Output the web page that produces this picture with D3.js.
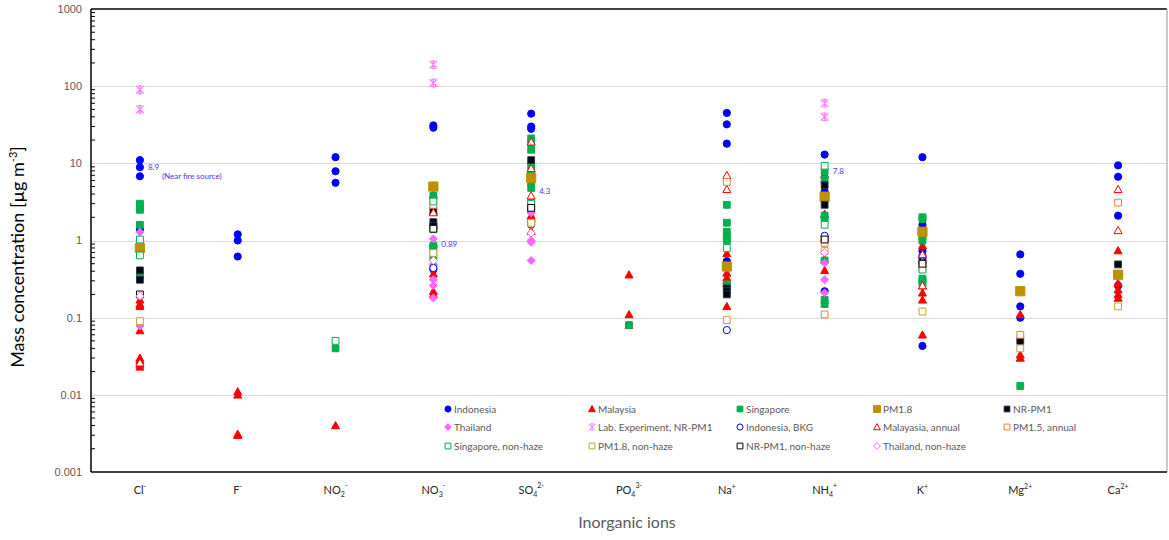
<!DOCTYPE html>
<meta charset="utf-8">
<style>
body { margin: 0; background: #fff; }
svg { font-family: Lato, "Open Sans", sans-serif; }
.grid line { stroke: #d9d9d9; stroke-width: 1; }
.ticklab { fill: #595959; font-size: 11px; font-family: "Liberation Sans", Arial, sans-serif; }
.catlab { fill: #262626; font-size: 11px; }
.leg text { fill: #595959; font-size: 10px; }
.note { fill: #3b3bff; font-size: 8px; }
</style>
<body>
<script src="https://d3js.org/d3.v7.min.js"></script>
<svg width="1169" height="540"></svg>
<script>

// categories (inorganic ions) and their label parts
var categories = ["Cl", "F", "NO2", "NO3", "SO4", "PO4", "Na", "NH4", "K", "Mg", "Ca"];
var labelBase = ["Cl", "F", "NO", "NO", "SO", "PO", "Na", "NH", "K", "Mg", "Ca"];
var labelSub  = ["", "", "2", "3", "4", "4", "", "4", "", "", ""];
var labelSup  = ["-", "-", "-", "-", "2-", "3-", "+", "+", "+", "2+", "2+"];

var yTicks = [0.001, 0.01, 0.1, 1, 10, 100, 1000];
var yTickLabels = ["0.001", "0.01", "0.1", "1", "10", "100", "1000"];

// series values: [category, concentration]
var indonesia = [["Cl",11],["Cl",8.9],["Cl",6.8],["Cl",1.4],["F",1.2],["F",1.0],["F",0.62],
  ["NO2",12],["NO2",7.9],["NO2",5.6],["NO3",31],["NO3",29],["NO3",0.42],
  ["SO4",44],["SO4",30],["SO4",28],["Na",45],["Na",32],["Na",18],["Na",0.54],
  ["NH4",13],["NH4",4.3],["NH4",1.1],["NH4",0.22],["K",12],["K",1.6],["K",0.73],["K",0.6],["K",0.043],
  ["Mg",0.66],["Mg",0.37],["Mg",0.14],["Mg",0.1],["Ca",9.4],["Ca",6.7],["Ca",2.1],["Ca",0.26]];
var malaysia = [["Cl",0.17],["Cl",0.15],["Cl",0.14],["Cl",0.068],["Cl",0.030],["Cl",0.028],["Cl",0.025],["Cl",0.023],
  ["F",0.011],["F",0.010],["F",0.0031],["F",0.003],["NO2",0.004],
  ["NO3",3.9],["NO3",2.4],["NO3",0.93],["NO3",0.37],["NO3",0.22],["NO3",0.2],
  ["SO4",2.1],["SO4",2.0],["SO4",1.9],["PO4",0.36],["PO4",0.11],["PO4",0.08],
  ["Na",0.68],["Na",0.38],["Na",0.33],["Na",0.3],["Na",0.28],["Na",0.14],
  ["NH4",7.2],["NH4",2.2],["NH4",1.1],["NH4",0.57],["NH4",0.41],
  ["K",0.86],["K",0.26],["K",0.21],["K",0.17],["K",0.06],["Mg",0.11],["Mg",0.033],["Mg",0.03],
  ["Ca",0.74],["Ca",0.28],["Ca",0.23],["Ca",0.2],["Ca",0.18]];
var singapore = [["Cl",3.0],["Cl",2.7],["Cl",2.5],["Cl",1.6],["Cl",0.35],["NO2",0.04],
  ["NO3",3.8],["NO3",1.5],["NO3",0.85],["NO3",0.76],["NO3",0.6],["NO3",0.45],
  ["SO4",21],["SO4",18.5],["SO4",15],["SO4",9.5],["SO4",7.8],["SO4",5.5],["SO4",4.8],["SO4",3.1],
  ["PO4",0.08],["Na",2.9],["Na",1.7],["Na",1.3],["Na",1.1],["Na",1.0],["Na",0.27],
  ["NH4",7.9],["NH4",6.2],["NH4",2.1],["NH4",1.9],["NH4",0.55],["NH4",0.17],["NH4",0.15],
  ["K",2.0],["K",1.9],["K",1.1],["K",1.0],["K",0.32],["K",0.3],["K",0.28],["Mg",0.013]];
var pm18 = [["Cl",0.8],["NO3",5.0],["SO4",6.5],["Na",0.46],["NH4",3.7],["K",1.3],["Mg",0.22],["Ca",0.36]];
var nrpm1 = [["Cl",0.41],["Cl",0.31],["NO3",2.45],["NO3",1.73],["NO3",1.56],["SO4",11],["SO4",2.5],
  ["Na",0.24],["Na",0.22],["Na",0.2],["NH4",5.2],["NH4",2.9],["K",0.54],["K",0.49],["Mg",0.05],["Ca",0.49]];
var thailand = [["Cl",1.28],["Cl",1.0],["Cl",0.078],["NO3",1.05],["NO3",0.49],["NO3",0.31],["NO3",0.26],["NO3",0.18],
  ["SO4",2.28],["SO4",1.0],["SO4",0.95],["SO4",0.55],["NH4",0.51],["NH4",0.31],["NH4",0.21],["K",0.62]];
var labExp = [["Cl",90],["Cl",50],["NO3",190],["NO3",110],["NH4",60],["NH4",40]];
var indoBkg = [["NO3",0.44],["SO4",1.6],["Na",0.069],["NH4",1.15],["K",0.64]];
var malAnnual = [["Cl",0.026],["NO3",2.3],["SO4",19],["SO4",8.6],["SO4",3.8],["SO4",1.32],
  ["Na",7.0],["Na",4.6],["K",0.66],["K",0.26],["Ca",4.6],["Ca",1.35]];
var pm15Annual = [["NO3",2.9],["Na",5.75],["NH4",0.93],["NH4",0.11],["K",0.44],["Mg",0.06],["Ca",3.1]];
var singNonhaze = [["Cl",1.03],["Cl",0.64],["NO2",0.05],["NO3",3.2],["NO3",1.4],["SO4",3.0],
  ["Na",0.8],["NH4",9.3],["NH4",1.6],["K",0.42]];
var pm18Nonhaze = [["Cl",0.09],["NO3",0.69],["SO4",1.7],["Na",0.093],["NH4",0.73],["K",0.12],["Mg",0.04],["Ca",0.14]];
var nrpm1Nonhaze = [["Cl",0.2],["NO3",1.42],["SO4",2.65],["NH4",1.03],["K",0.5]];
var thaiNonhaze = [["Cl",0.19],["NO3",0.55],["SO4",1.25],["NH4",0.7]];

var notes = [["Cl", 8.9, "8.9"], ["NO3", 0.89, "0.89"], ["SO4", 4.3, "4.3"], ["NH4", 7.8, "7.8"]];

var series = [
  {name: "Indonesia", data: indonesia, shape: "circle", fill: "#0000ff", stroke: "#0000ff"},
  {name: "Malaysia", data: malaysia, shape: "triangle", fill: "#ff0000", stroke: "#ff0000"},
  {name: "Singapore", data: singapore, shape: "square", fill: "#00b050", stroke: "#00b050"},
  {name: "PM1.8", data: pm18, shape: "bigsquare", fill: "#bf9000", stroke: "#bf9000"},
  {name: "NR-PM1", data: nrpm1, shape: "square", fill: "#000000", stroke: "#1f3864"},
  {name: "Thailand", data: thailand, shape: "diamond", fill: "#ff66ff", stroke: "#ff66ff"},
  {name: "Lab. Experiment, NR-PM1", data: labExp, shape: "star", fill: "none", stroke: "#ff7fff"},
  {name: "Indonesia, BKG", data: indoBkg, shape: "circle", fill: "#fff", stroke: "#0000ff"},
  {name: "Malayasia, annual", data: malAnnual, shape: "triangle", fill: "#fff", stroke: "#ff0000"},
  {name: "PM1.5, annual", data: pm15Annual, shape: "square", fill: "#fff", stroke: "#ed7d31"},
  {name: "Singapore, non-haze", data: singNonhaze, shape: "square", fill: "#fff", stroke: "#00b050"},
  {name: "PM1.8, non-haze", data: pm18Nonhaze, shape: "square", fill: "#fff", stroke: "#c9a227"},
  {name: "NR-PM1, non-haze", data: nrpm1Nonhaze, shape: "square", fill: "#fff", stroke: "#000000"},
  {name: "Thailand, non-haze", data: thaiNonhaze, shape: "diamond", fill: "#fff", stroke: "#ff66ff"}
];

var svg = d3.select("svg");
var plotLeft = 91, plotRight = 1167, plotTop = 9, plotBottom = 472;

var x = d3.scaleBand().domain(categories).range([plotLeft, plotRight]);
var y = d3.scaleLog().domain([0.001, 1000]).range([plotBottom, plotTop]);

function shapePath(shape, s) {
  s = s || 1;
  var r;
  switch (shape) {
    case "circle": r = 3.6 * s; return "M" + (-r) + ",0A" + r + "," + r + " 0 1,0 " + r + ",0A" + r + "," + r + " 0 1,0 " + (-r) + ",0Z";
    case "triangle": r = 4 * s; return "M0," + (-r) + "L" + r + "," + (r * 0.8) + "L" + (-r) + "," + (r * 0.8) + "Z";
    case "square": r = 3.4 * s; return "M" + (-r) + "," + (-r) + "H" + r + "V" + r + "H" + (-r) + "Z";
    case "bigsquare": r = 4.6 * s; return "M" + (-r) + "," + (-r) + "H" + r + "V" + r + "H" + (-r) + "Z";
    case "diamond": r = 4 * s; return "M0," + (-r) + "L" + r + ",0L0," + r + "L" + (-r) + ",0Z";
    case "star": r = 3.8 * s; return "M" + (-r) + "," + (-r) + "L" + r + "," + r + "M" + r + "," + (-r) + "L" + (-r) + "," + r +
      "M" + (-r / 2) + "," + (-r) + "H" + (r / 2) + "M" + (-r / 2) + "," + r + "H" + (r / 2) + "M0," + (-r) + "V" + r;
  }
}

// gridlines
svg.append("g").attr("class", "grid")
  .selectAll("line").data(yTicks.slice(1, -1)).enter().append("line")
    .attr("x1", plotLeft).attr("x2", plotRight)
    .attr("y1", function(d) { return Math.round(y(d)) + 0.5; })
    .attr("y2", function(d) { return Math.round(y(d)) + 0.5; });

// frame
svg.append("line").attr("x1", plotLeft).attr("x2", plotRight).attr("y1", plotTop).attr("y2", plotTop)
  .attr("stroke", "#000").attr("stroke-width", 1.5);
svg.append("line").attr("x1", plotRight).attr("x2", plotRight).attr("y1", plotTop).attr("y2", plotBottom)
  .attr("stroke", "#a6a6a6").attr("stroke-width", 1.2);

// y axis: minor ticks inside
var minor = [];
yTicks.slice(0, -1).forEach(function(t) {
  for (var k = 2; k <= 9; k++) minor.push(t * k);
});
svg.append("g").selectAll("line").data(minor).enter().append("line")
  .attr("x1", plotLeft).attr("x2", plotLeft + 4)
  .attr("y1", function(d) { return y(d); }).attr("y2", function(d) { return y(d); })
  .attr("stroke", "#000").attr("stroke-width", 1);

svg.append("g").selectAll("text").data(yTicks).enter().append("text")
  .attr("class", "ticklab")
  .attr("x", plotLeft - 9).attr("y", function(d) { return y(d); })
  .attr("dy", "0.35em").attr("text-anchor", "end")
  .text(function(d, i) { return yTickLabels[i]; });

svg.append("line").attr("x1", plotLeft).attr("x2", plotLeft).attr("y1", plotTop).attr("y2", plotBottom)
  .attr("stroke", "#000").attr("stroke-width", 1.5);
svg.append("line").attr("x1", plotLeft).attr("x2", plotRight).attr("y1", plotBottom).attr("y2", plotBottom)
  .attr("stroke", "#000").attr("stroke-width", 1.5);

// category labels
var cl = svg.append("g").selectAll("text").data(categories).enter().append("text")
  .attr("class", "catlab")
  .attr("x", function(d) { return x(d) + x.bandwidth() / 2; })
  .attr("y", 494).attr("text-anchor", "middle");
cl.append("tspan").text(function(d, i) { return labelBase[i]; });
cl.append("tspan").attr("font-size", "7px").attr("dy", 3)
  .text(function(d, i) { return labelSub[i]; });
cl.append("tspan").attr("font-size", "7px")
  .attr("dy", function(d, i) { return labelSub[i] ? -9 : -5; })
  .text(function(d, i) { return labelSup[i]; });

// axis titles
svg.append("text")
  .attr("transform", "translate(24,257) rotate(-90)")
  .attr("text-anchor", "middle").attr("font-size", "18px").attr("fill", "#000")
  .call(function(t) {
    t.append("tspan").text("Mass concentration [µg m");
    t.append("tspan").attr("font-size", "11px").attr("dy", -7).text("-3");
    t.append("tspan").attr("dy", 7).text("]");
  });
svg.append("text")
  .attr("x", (plotLeft + plotRight) / 2 - 2).attr("y", 528)
  .attr("text-anchor", "middle").attr("font-size", "16px").attr("fill", "#595959")
  .text("Inorganic ions");

// points
series.forEach(function(s) {
  svg.append("g").selectAll("path").data(s.data).enter().append("path")
    .attr("transform", function(d) {
      return "translate(" + (x(d[0]) + x.bandwidth() / 2) + "," + y(d[1]) + ")";
    })
    .attr("d", shapePath(s.shape))
    .attr("fill", s.fill)
    .attr("stroke", s.stroke)
    .attr("stroke-width", s.shape === "star" ? 1.3 : 1);
});

// notes
svg.append("g").selectAll("text").data(notes).enter().append("text")
  .attr("class", "note")
  .attr("x", function(d) { return x(d[0]) + x.bandwidth() / 2 + 8; })
  .attr("y", function(d) { return y(d[1]); })
  .attr("dy", "0.35em")
  .text(function(d) { return d[2]; });
svg.append("text").attr("class", "note")
  .attr("x", x("Cl") + x.bandwidth() / 2 + 22).attr("y", y(6.8)).attr("dy", "0.35em")
  .text("(Near fire source)");

// legend
var legCols = [448, 592, 740, 877, 1007];
var legRows = [409, 427, 446];
var leg = svg.append("g").attr("class", "leg").selectAll("g").data(series).enter().append("g")
  .attr("transform", function(d, i) {
    return "translate(" + legCols[i % 5] + "," + legRows[Math.floor(i / 5)] + ")";
  });
leg.append("path")
  .attr("d", function(d) { return shapePath(d.shape, d.shape === "bigsquare" ? 0.75 : 0.85); })
  .attr("fill", function(d) { return d.fill; })
  .attr("stroke", function(d) { return d.stroke; })
  .attr("stroke-width", 1);
leg.append("text").attr("x", 6).attr("dy", "0.35em").text(function(d) { return d.name; });

</script>
</body>
